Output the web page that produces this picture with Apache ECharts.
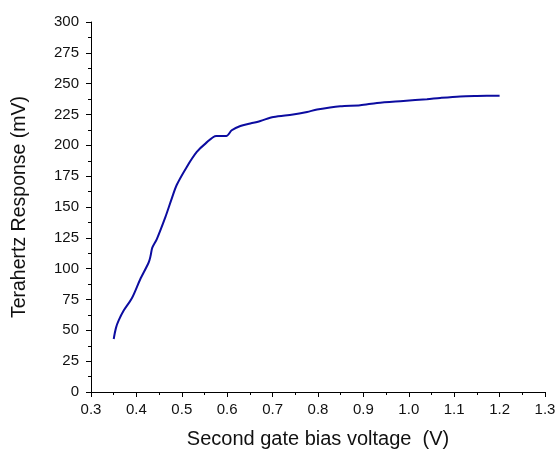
<!DOCTYPE html>
<html>
<head>
<meta charset="utf-8">
<script src="https://cdn.jsdelivr.net/npm/echarts@6/dist/echarts.min.js"></script>
<style>
html,body{margin:0;padding:0;background:#fff;}
#c{width:557px;height:451px;}
</style>
</head>
<body>
<div id="c"></div>
<script>
var voltage = [0.35, 0.355, 0.361, 0.372, 0.39, 0.408, 0.427, 0.431, 0.435, 0.445, 0.464, 0.478, 0.489, 0.511, 0.533, 0.552, 0.576, 0.598, 0.61, 0.629, 0.651, 0.673, 0.702, 0.745, 0.776, 0.798, 0.849, 0.893, 0.93, 0.988, 1.04, 1.069, 1.113, 1.15, 1.2];
var response = [43, 52, 58, 66, 76, 91, 105, 110, 117, 124, 142, 157, 168, 182.5, 194.6, 201.4, 207.6, 207.6, 212.2, 215.7, 217.7, 219.8, 223, 225, 227.1, 229, 231.7, 232.5, 234.4, 236, 237.4, 238.4, 239.6, 240, 240.3];
var xTitle = 'Second gate bias voltage  (V)';
var yTitle = 'Terahertz Response (mV)';

var data = voltage.map(function (v, i) { return [v, response[i]]; });
var chart = echarts.init(document.getElementById('c'), null, {renderer: 'canvas'});
var font = '"Liberation Sans", Arial, sans-serif';
chart.setOption({
  animation: false,
  grid: {left: 91, right: 12, top: 22, bottom: 59, containLabel: false, outerBoundsMode: 'none'},
  xAxis: {
    type: 'value', min: 0.3, max: 1.3, interval: 0.1,
    name: xTitle, nameLocation: 'middle', nameGap: 37,
    nameTextStyle: {fontFamily: font, fontSize: 20, color: '#111'},
    axisLine: {lineStyle: {color: '#000', width: 1}},
    axisTick: {show: true, inside: false, length: 5, lineStyle: {color: '#000'}},
    minorTick: {show: true, splitNumber: 2, length: 3, lineStyle: {color: '#000'}},
    splitLine: {show: false},
    axisLabel: {fontFamily: font, fontSize: 15, color: '#111', margin: 10,
      formatter: function (v) { return v.toFixed(1); }}
  },
  yAxis: {
    type: 'value', min: 0, max: 300, interval: 25,
    name: yTitle, nameLocation: 'middle', nameGap: 61,
    nameTextStyle: {fontFamily: font, fontSize: 19.5, color: '#111'},
    axisLine: {show: true, lineStyle: {color: '#000', width: 1}},
    axisTick: {show: true, inside: false, length: 5, lineStyle: {color: '#000'}},
    minorTick: {show: true, splitNumber: 2, length: 3, lineStyle: {color: '#000'}},
    splitLine: {show: false},
    axisLabel: {fontFamily: font, fontSize: 15, color: '#111', margin: 12}
  },
  series: [{
    type: 'line', data: data, showSymbol: false, smooth: 0.3,
    lineStyle: {color: '#0c0ca0', width: 2}
  }]
});
</script>
</body>
</html>
